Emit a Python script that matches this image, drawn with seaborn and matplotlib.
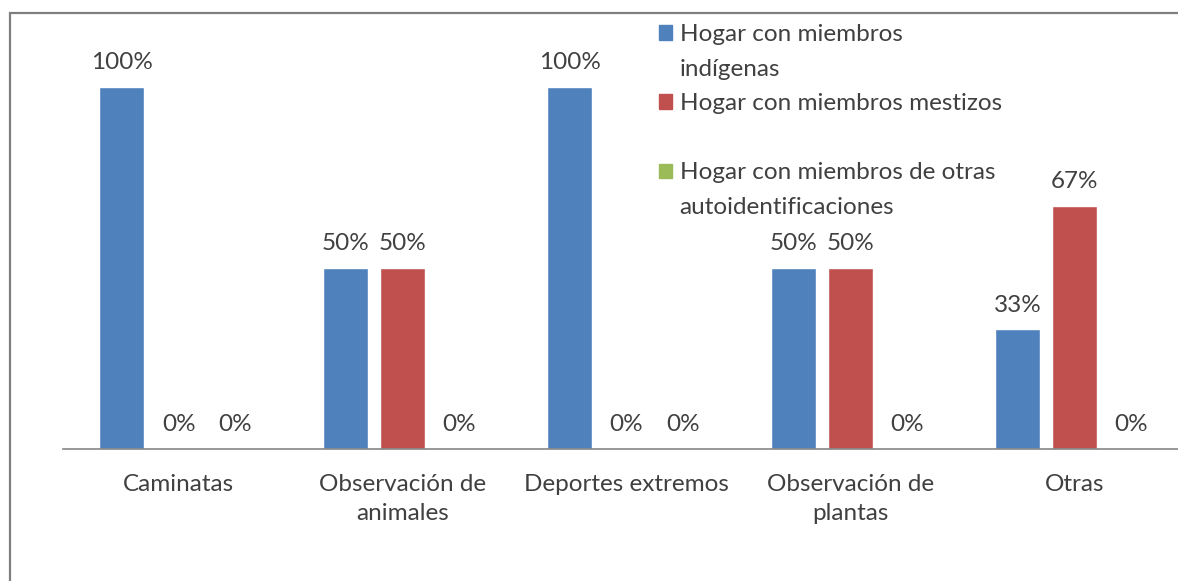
import numpy as np
import pandas as pd
import seaborn as sns
import matplotlib
matplotlib.use("Agg")
import matplotlib.pyplot as plt
from matplotlib.patches import Patch, Rectangle

categories = ["Caminatas", "Observación de\nanimales", "Deportes extremos",
              "Observación de\nplantas", "Otras"]
series = ["Hogar con miembros indígenas", "Hogar con miembros mestizos",
          "Hogar con miembros de otras autoidentificaciones"]
indigenas = [100, 50, 100, 50, 33]
mestizos = [0, 50, 0, 50, 67]
otras = [0, 0, 0, 0, 0]
colors = ["#4F81BD", "#C0504D", "#9BBB59"]

df = pd.DataFrame({
    "cat": categories * 3,
    "serie": [s for s in series for _ in categories],
    "val": indigenas + mestizos + otras,
})

sns.set_theme(style="white")
plt.rcParams['font.family'] = ['Lato', 'DejaVu Sans']
TXT = "#404040"
FS = 17.5

W, H = 1178, 581
fig = plt.figure(figsize=(W / 100, H / 100), dpi=100)
ax = fig.add_axes([63 / W, (H - 449) / H, 1 - 63 / W, (449 - 13) / H])

sns.barplot(data=df, x="cat", y="val", hue="serie", palette=colors,
            width=0.763, gap=0.21, saturation=1, ax=ax, legend=False)

vals = [indigenas, mestizos, otras]
for cont, v in zip(ax.containers, vals):
    ax.bar_label(cont, labels=[f"{x:.0f}%" for x in v], padding=10,
                 fontsize=FS, color=TXT)

ax.set_xlim(-0.516, 4.462)
ax.set_ylim(0, 120.4)
ax.set_xlabel("")
ax.set_ylabel("")
ax.set_yticks([])
ax.tick_params(axis="x", length=0, pad=18, labelsize=FS, labelcolor=TXT)
for lbl in ax.get_xticklabels():
    lbl.set_linespacing(1.45)
for s in ["top", "left", "right"]:
    ax.spines[s].set_visible(False)
ax.spines["bottom"].set_color("#868686")
ax.spines["bottom"].set_linewidth(1.2)

handles = [Patch(color=colors[0]), Patch(alpha=0),
           Patch(color=colors[1]), Patch(alpha=0),
           Patch(color=colors[2]), Patch(alpha=0)]
labels = ["Hogar con miembros", "indígenas", "Hogar con miembros mestizos", " ",
          "Hogar con miembros de otras", "autoidentificaciones"]
fig.legend(handles, labels, loc="upper left", bbox_to_anchor=(659 / W, 1 - 24 / H),
           frameon=False, fontsize=FS, labelcolor=TXT, borderpad=0,
           borderaxespad=0, handlelength=0.55, handleheight=0.55,
           handletextpad=0.3, labelspacing=0.56)

fig.add_artist(Rectangle((10 / W, -0.1), 1.2, (H - 13) / H + 0.1,
                         transform=fig.transFigure, fill=False,
                         edgecolor="#7f7f7f", lw=1.6))

fig.savefig("out.png", dpi=100)
